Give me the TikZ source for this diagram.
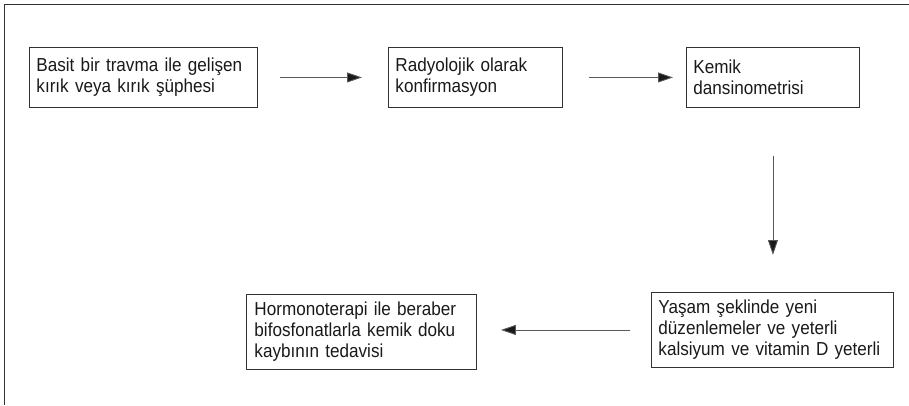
\documentclass[tikz,border=0pt]{standalone}
\usepackage{fontspec}
\setmainfont[FakeStretch=0.91]{Liberation Sans}
\usetikzlibrary{arrows.meta}

\begin{document}
\begin{tikzpicture}[x=1pt,y=-1pt,
    stepbox/.style={draw=black!80, line width=0.9pt, anchor=north west,
      align=left, inner sep=7pt, minimum height=60pt, text=black!90,
      font=\fontsize{18.8}{21}\selectfont},
    flow/.style={draw=black!65, line width=0.9pt,
      -{Triangle[length=15pt,width=10pt,fill=black!90]}}]
  \useasboundingbox (0,0) rectangle (909,405);
  % outer frame (top and left edges only)
  \draw[black!80, line width=0.9pt] (909,4) -- (4,4) -- (4,405);
  % top row
  \node[stepbox, minimum width=228pt, text width=214pt] (travma) at (29,47)
    {Basit bir travma ile gelişen\\kırık veya kırık şüphesi};
  \node[stepbox, minimum width=174pt, text width=160pt] (radyo) at (388,47)
    {Radyolojik olarak\\konfirmasyon};
  \node[stepbox, minimum width=173pt, text width=159pt] (kemik) at (686,47)
    {Kemik\\dansinometrisi};
  % bottom row
  \node[stepbox, minimum width=242pt, text width=228pt, minimum height=75pt] (yasam) at (651,292)
    {Yaşam şeklinde yeni\\düzenlemeler ve yeterli\\kalsiyum ve vitamin D yeterli};
  \node[stepbox, minimum width=228pt, text width=214pt, minimum height=75pt, inner xsep=8pt] (hormon) at (246,294)
    {Hormonoterapi ile beraber\\bifosfonatlarla kemik doku\\kaybının tedavisi};
  % connectors
  \draw[flow, shorten <=22pt, shorten >=26pt] (travma.east) -- (radyo.west);
  \draw[flow, shorten <=26pt, shorten >=13pt] (radyo.east) -- (kemik.west);
  \draw[flow, shorten <=48pt, shorten >=37pt] (kemik.south) -- (kemik.south |- yasam.north);
  \draw[flow, shorten <=21pt, shorten >=24pt] (yasam.west) -- (yasam.west -| hormon.east);
\end{tikzpicture}
\end{document}
